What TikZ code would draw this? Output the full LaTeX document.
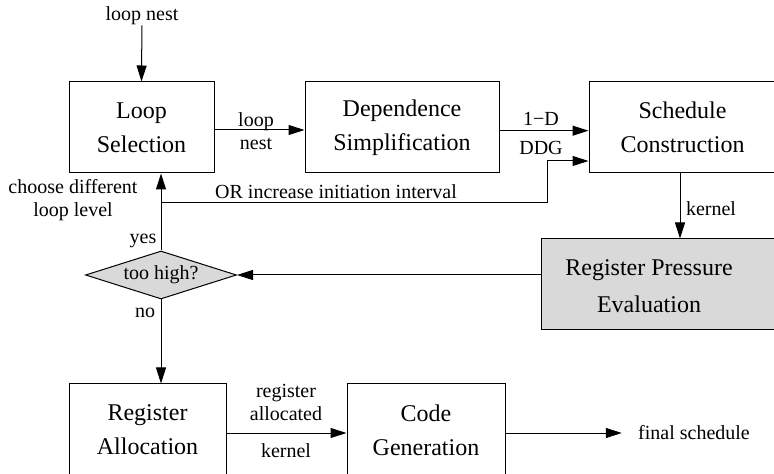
\documentclass[tikz,border=0pt]{standalone}
\usepackage{fontspec}
\setmainfont{Liberation Serif}
\usetikzlibrary{arrows.meta,shapes.geometric}
\definecolor{boxgray}{HTML}{D9D9D9}
\tikzset{
  box/.style={draw, line width=0.5pt, minimum height=45.5pt, inner sep=0pt,
    align=center, font=\fontsize{12}{17}\selectfont},
  decide/.style={draw, diamond, aspect=3.1, fill=boxgray, line width=0.5pt, inner sep=0pt,
    minimum width=75.5pt, minimum height=24pt, font=\fontsize{10}{12}\selectfont},
  lbl/.style={inner sep=0pt, align=center, font=\fontsize{10}{11.5}\selectfont},
  arr/.style={line width=0.5pt, -{Triangle[length=8pt,width=5pt]}},
}
\begin{document}
\begin{tikzpicture}[x=0.5pt, y=-0.5pt]
  \useasboundingbox (0,0) rectangle (774,474);
  \node[lbl] (innest) at (142,16) {loop nest};
  \node[box, minimum width=72.5pt] (loopsel) at (141.5,127.5) {Loop\\Selection};
  \node[box, minimum width=97pt] (depsimp) at (402,127.5) {Dependence\\Simplification};
  \node[box, minimum width=93.5pt] (schedcon) at (682.5,127.5) {Schedule\\Construction};
  \node[box, fill=boxgray, minimum width=117.5pt] (regpress) at (658.5,284.5) {};
  \node[inner sep=0pt, align=center, font=\fontsize{12}{18.5}\selectfont] (regpresstext) at (649,286) {Register Pressure\\Evaluation};
  \node[decide] (toohigh) at (161,275) {too high?};
  \node[box, minimum width=78.5pt, minimum height=46pt] (regalloc) at (147.5,430) {Register\\Allocation};
  \node[box, minimum width=79pt, minimum height=46pt] (codegen) at (426,430) {Code\\Generation};
  \node[lbl, inner xsep=8pt] (final) at (694,433) {final schedule};
  \coordinate (fork) at (161,203);
  \coordinate (fbturn) at (547,203);

  \draw[arr] (innest) -- (loopsel.north);
  \draw[arr] ([yshift=-1.25pt]loopsel.east) -- ([yshift=-1.25pt]depsimp.west);
  \node[lbl] at (256,131) {loop\\nest};
  \draw[arr] ([yshift=-1.6pt]depsimp.east) -- ([yshift=-1.6pt]schedcon.west);
  \node[lbl] at (541,119) {1−D};
  \node[lbl] at (541,148) {DDG};
  \draw[arr] (toohigh.north) -- (toohigh.north |- loopsel.south);
  \draw[arr] (fork) -- (fbturn) |- (schedcon.west |- 0,161);
  \node[lbl] at (336,192) {OR increase initiation interval};
  \node[lbl] at (73,200) {choose different\\loop level};
  \draw[arr] ([xshift=-1.25pt]schedcon.south) -- ([xshift=-1.25pt]schedcon.south |- regpress.north);
  \node[lbl] at (711,209) {kernel};
  \draw[arr] (regpress.west |- toohigh.east) -- (toohigh.east);
  \node[lbl] at (143,241) {yes};
  \node[lbl] at (145,313) {no};
  \draw[arr] (toohigh.south) -- (toohigh.south |- regalloc.north);
  \draw[arr] ([yshift=-1.5pt]regalloc.east) -- ([yshift=-1.5pt]codegen.west);
  \node[lbl] at (286,402) {register\\allocated};
  \node[lbl] at (286,451) {kernel};
  \draw[arr] ([yshift=-1.5pt]codegen.east) -- (final.west);
\end{tikzpicture}
\end{document}
